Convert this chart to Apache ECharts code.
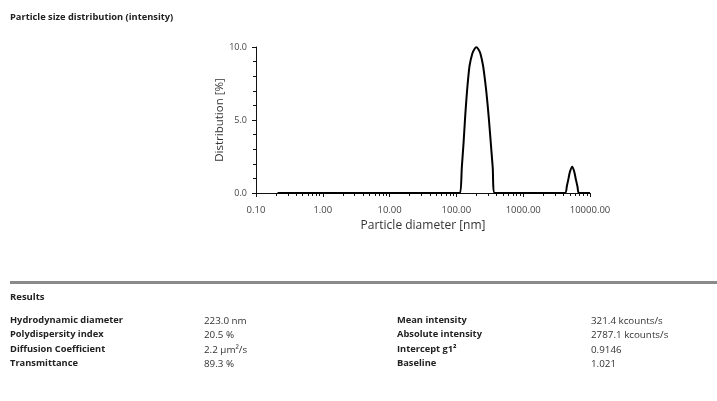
<!DOCTYPE html>
<html>
<head>
<meta charset="utf-8">
<script src="https://cdn.jsdelivr.net/npm/echarts@6/dist/echarts.min.js"></script>
<style>
html, body { margin: 0; padding: 0; background: #fff; }
#main { width: 717px; height: 401px; }
</style>
</head>
<body>
<div id="main"></div>
<script>
// particle diameter [nm] and distribution [%]
const diameters = [0.21, 1, 10, 100,
    113.6, 120.5, 128.3, 135.6, 143.8, 150.4, 157.8, 173.3, 185.7, 199.0,
    213.2, 228.5, 250.0, 265.1, 281.1, 303.4, 326.2, 349.6, 374.6,
    1000,
    4213, 4515, 4724, 5007, 5424, 5812, 6163, 6492, 6836,
    10000];
const distribution = [0, 0, 0, 0,
    0, 1.75, 3.5, 5.3, 6.9, 7.9, 8.75, 9.56, 9.85, 9.98,
    9.85, 9.56, 8.75, 7.9, 6.9, 5.3, 3.5, 1.75, 0,
    0,
    0, 0.5, 0.9, 1.45, 1.8, 1.45, 0.9, 0.45, 0,
    0];

// minor ticks of the log axis
const minorTicks = [0.2, 0.3, 0.4, 0.5, 0.6, 0.7, 0.8, 0.9,
    2, 3, 4, 5, 6, 7, 8, 9,
    20, 30, 40, 50, 60, 70, 80, 90,
    200, 300, 400, 500, 600, 700, 800, 900,
    2000, 3000, 4000, 5000, 6000, 7000, 8000, 9000];

// results table
const leftLabels = ['Hydrodynamic diameter', 'Polydispersity index', 'Diffusion Coefficient', 'Transmittance'];
const leftValues = ['223.0 nm', '20.5 %', '2.2 µm²/s', '89.3 %'];
const rightLabels = ['Mean intensity', 'Absolute intensity', 'Intercept g1²', 'Baseline'];
const rightValues = ['321.4 kcounts/s', '2787.1 kcounts/s', '0.9146', '1.021'];

let chart = echarts.init(document.getElementById('main'));

const font = '"Open Sans", sans-serif';
let tableTexts = [];
const rowY = [316, 330, 345, 359];
for (let i = 0; i < rowY.length; i++) {
    tableTexts.push({ type: 'text', left: 10, top: rowY[i], style: { text: leftLabels[i], font: 'bold 9.3px ' + font, fill: '#222' } });
    tableTexts.push({ type: 'text', left: 204, top: rowY[i], style: { text: leftValues[i], font: '9.8px ' + font, fill: '#333' } });
    tableTexts.push({ type: 'text', left: 397, top: rowY[i], style: { text: rightLabels[i], font: 'bold 9.3px ' + font, fill: '#222' } });
    tableTexts.push({ type: 'text', left: 591, top: rowY[i], style: { text: rightValues[i], font: '9.8px ' + font, fill: '#333' } });
}

let option = {
    backgroundColor: '#fff',
    animation: false,
    grid: { left: 256, right: 127, top: 47, bottom: 208 },
    xAxis: [{
        type: 'log',
        logBase: 10,
        min: 0.1,
        max: 10000,
        name: 'Particle diameter [nm]',
        nameLocation: 'middle',
        nameGap: 27,
        nameTextStyle: { fontFamily: font, fontSize: 12, color: '#333' },
        axisLine: { lineStyle: { color: '#111', width: 1 } },
        axisTick: { show: true, length: 4, lineStyle: { color: '#111' } },
        axisLabel: {
            fontFamily: font, fontSize: 9.5, color: '#444', margin: 12,
            formatter: function (v) { return Number(v).toFixed(2); }
        },
        splitLine: { show: false }
    }, {
        type: 'log',
        logBase: 10,
        min: 0.1,
        max: 10000,
        position: 'bottom',
        axisLine: { show: false },
        axisTick: { show: true, length: 3, customValues: minorTicks, lineStyle: { color: '#111' } },
        axisLabel: { show: false },
        splitLine: { show: false }
    }],
    yAxis: {
        type: 'value',
        min: 0,
        max: 10,
        interval: 5,
        name: 'Distribution [%]',
        nameLocation: 'middle',
        nameGap: 30,
        nameTextStyle: { fontFamily: font, fontSize: 11.5, color: '#333' },
        axisLine: { show: true, lineStyle: { color: '#111', width: 1 } },
        axisTick: { show: true, length: 4, lineStyle: { color: '#111' } },
        minorTick: { show: true, splitNumber: 5, length: 3, lineStyle: { color: '#111' } },
        axisLabel: {
            fontFamily: font, fontSize: 9, color: '#444', margin: 9,
            formatter: function (v) { return v.toFixed(1); }
        },
        splitLine: { show: false }
    },
    series: [{
        type: 'line',
        xAxisIndex: 0,
        data: diameters.map(function (d, i) { return [d, distribution[i]]; }),
        smooth: 0.25,
        showSymbol: false,
        lineStyle: { color: '#000', width: 2 },
        z: 5
    }],
    graphic: [
        { type: 'text', left: 10, top: 13, style: { text: 'Particle size distribution (intensity)', font: 'bold 9.3px ' + font, fill: '#222' } },
        { type: 'rect', left: 10, top: 281, shape: { width: 707, height: 3 }, style: { fill: '#8a8a8a' } },
        { type: 'text', left: 10, top: 292, style: { text: 'Results', font: 'bold 9.5px ' + font, fill: '#222' } }
    ].concat(tableTexts)
};
chart.setOption(option);
</script>
</body>
</html>
